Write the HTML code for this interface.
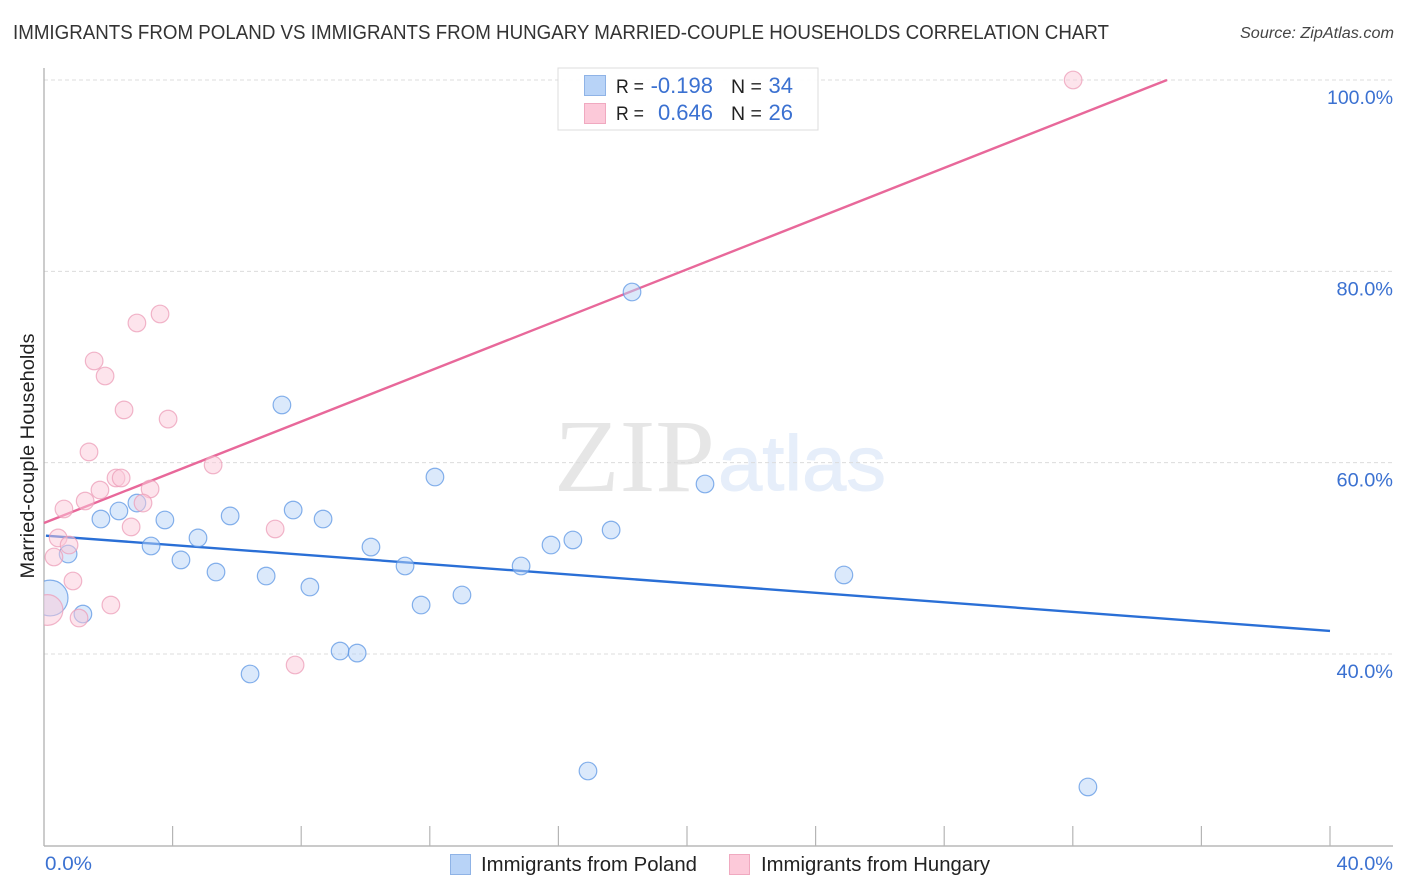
<!DOCTYPE html>
<html lang="en">
<head>
<meta charset="utf-8">
<title>Immigrants from Poland vs Immigrants from Hungary Married-couple Households Correlation Chart</title>
<style>
html,body{margin:0;padding:0;background:#fff;width:1406px;height:892px;overflow:hidden}
svg{display:block;font-family:"Liberation Sans",sans-serif}
</style>
</head>
<body>
<svg id="chart" xmlns="http://www.w3.org/2000/svg" width="1406" height="892" viewBox="0 0 1406 892">
  <defs>
    <clipPath id="plot-clip"><rect x="44" y="60" width="1360" height="786"/></clipPath>
  </defs>
  <text x="13" y="39" font-size="20" fill="#333" textLength="1096" lengthAdjust="spacingAndGlyphs">IMMIGRANTS FROM POLAND VS IMMIGRANTS FROM HUNGARY MARRIED-COUPLE HOUSEHOLDS CORRELATION CHART</text>
  <text x="1240" y="38" font-size="15.5" font-style="italic" fill="#444" textLength="154" lengthAdjust="spacingAndGlyphs">Source: ZipAtlas.com</text>

  <g>
    <text x="554" y="491" style="font-family:'Liberation Serif',serif" font-size="104" fill="#e6e6e6" textLength="161" lengthAdjust="spacingAndGlyphs">ZIP</text>
    <text x="718" y="490" style="font-family:'Liberation Sans',sans-serif" font-size="78" fill="#e6eefa" stroke="#e6eefa" stroke-width="1" textLength="168" lengthAdjust="spacingAndGlyphs">atlas</text>
  </g>

  <g id="grid"></g>
  <g id="axes"></g>
  <g id="lines"></g>
  <g id="points" clip-path="url(#plot-clip)"></g>
  <g id="labels"></g>

  <text transform="translate(34 456) rotate(-90)" font-size="19.5" fill="#222" text-anchor="middle" textLength="245" lengthAdjust="spacingAndGlyphs">Married-couple Households</text>

  <g>
    <rect x="558" y="68" width="260" height="62" fill="#fff" fill-opacity="0.9" stroke="#dcdcdc" stroke-width="1"/>
    <rect x="584.5" y="75.5" width="21" height="20" fill="#b8d3f7" stroke="#8fb3e6"/>
    <rect x="584.5" y="103.5" width="21" height="20" fill="#fcc9d9" stroke="#f0a9c0"/>
    <text x="616" y="93" font-size="19.5" fill="#222" textLength="28" lengthAdjust="spacingAndGlyphs">R =</text>
    <text x="713" y="93" font-size="22" fill="#3b71d1" text-anchor="end">-0.198</text>
    <text x="731" y="93" font-size="19.5" fill="#222">N =</text>
    <text x="793" y="93" font-size="22" fill="#3b71d1" text-anchor="end">34</text>
    <text x="616" y="120" font-size="19.5" fill="#222" textLength="28" lengthAdjust="spacingAndGlyphs">R =</text>
    <text x="713" y="120" font-size="22" fill="#3b71d1" text-anchor="end">0.646</text>
    <text x="731" y="120" font-size="19.5" fill="#222">N =</text>
    <text x="793" y="120" font-size="22" fill="#3b71d1" text-anchor="end">26</text>
  </g>

  <g>
    <rect x="450.5" y="854.5" width="20" height="20" fill="#b8d3f7" stroke="#8fb3e6"/>
    <text x="481" y="871" font-size="20" fill="#222" textLength="216" lengthAdjust="spacingAndGlyphs">Immigrants from Poland</text>
    <rect x="729.5" y="854.5" width="20" height="20" fill="#fcc9d9" stroke="#f0a9c0"/>
    <text x="761" y="871" font-size="20" fill="#222" textLength="229" lengthAdjust="spacingAndGlyphs">Immigrants from Hungary</text>
  </g>
</svg>
<script>
// Chart data (percent values)
const polandX = [0.19,0.75,1.21,1.77,2.33,2.89,3.33,3.76,4.26,4.79,5.35,5.79,6.41,6.91,7.40,7.75,8.27,8.68,9.21,9.74,10.17,11.23,11.73,12.16,13.00,14.84,15.77,16.45,17.64,18.29,20.56,24.88,16.92,32.47];
const polandY = [45.85,50.45,44.18,54.11,54.95,55.78,51.29,54.01,49.83,52.13,48.57,54.43,37.91,48.15,66.03,55.05,47.00,54.11,40.31,40.10,51.18,49.20,45.12,58.50,46.17,49.20,51.39,51.92,52.96,77.84,57.77,48.26,27.77,26.10];
const polandWeight = [4.13,1,1,1,1,1,1,1,1,1,1,1,1,1,1,1,1,1,1,1,1,1,1,1,1,1,1,1,1,1,1,1,1,1];
const hungaryX = [32.01,3.61,2.89,1.56,1.90,2.49,3.86,5.26,1.40,2.24,2.40,3.30,3.08,1.74,1.28,0.62,2.71,0.44,0.78,0.31,0.90,2.08,1.09,0.11,7.19,7.81];
const hungaryY = [100.00,75.54,74.60,70.63,69.06,65.51,64.56,59.76,61.12,58.40,58.40,57.25,55.78,57.14,55.99,55.16,53.28,52.13,51.39,50.14,47.63,45.12,43.76,44.60,53.07,38.85];
const hungaryWeight = [1,1,1,1,1,1,1,1,1,1,1,1,1,1,1,1,1,1,1,1,1,1,1,3.04,1,1];
const polandTrendX = [0.06,40];
const polandTrendY = [52.37,42.41];
const hungaryTrendX = [0,34.93];
const hungaryTrendY = [53.69,100];
const yTicks = [100,80,60,40];
const yTickLabels = ["100.0%","80.0%","60.0%","40.0%"];
const xTicks = [0,4,8,12,16,20,24,28,32,36,40];
const xEndTicks = [0,40];
const xEndLabels = ["0.0%","40.0%"];

const NS = 'http://www.w3.org/2000/svg';
function xScale(v){ return 44 + v * 32.15; }
function yScale(v){ return 80 + (100 - v) * 9.5667; }
function labelWidth(s){ return 9.5 * s.length + 9; }
function make(tag, attrs, parent){
  const el = document.createElementNS(NS, tag);
  for (const k in attrs) el.setAttribute(k, attrs[k]);
  parent.appendChild(el);
  return el;
}
const gridG = document.getElementById('grid');
const axesG = document.getElementById('axes');
const linesG = document.getElementById('lines');
const pointsG = document.getElementById('points');
const labelsG = document.getElementById('labels');

yTicks.forEach(function(t, i){
  const line = make('line', {x1:44, x2:1393, y1:yScale(t), y2:yScale(t), stroke:'#dcdcdc', 'stroke-width':1, 'stroke-dasharray':'4 3'}, gridG);
  
  
  const w = labelWidth(yTickLabels[i]);
  const label = make('text', {x:1393 - w, y:yScale(t) + 24, 'font-size':19.5, fill:'#3b71d1', textLength:w, lengthAdjust:'spacingAndGlyphs'}, labelsG);
  label.textContent = yTickLabels[i];
  
  
});

const yAxis = make('line', {x1:44, x2:44, y1:68, y2:846, stroke:'#aaa', 'stroke-width':1.2}, axesG);


const xAxis = make('line', {x1:44, x2:1393, y1:846, y2:846, stroke:'#aaa', 'stroke-width':1.2}, axesG);



xTicks.forEach(function(t){
  const tick = make('line', {x1:xScale(t), x2:xScale(t), y1:826, y2:846, stroke:'#b5b5b5', 'stroke-width':1.2}, axesG);
  
  
});

xEndTicks.forEach(function(t, i){
  const w = labelWidth(xEndLabels[i]);
  const label = make('text', {x: i === 0 ? xScale(t) + 1 : 1393 - w, y:870, 'font-size':19.5, fill:'#3b71d1', textLength:w, lengthAdjust:'spacingAndGlyphs'}, labelsG);
  label.textContent = xEndLabels[i];
  
  
});

function drawPoints(xs, ys, weights, fill, stroke, name){
  xs.forEach(function(x, i){
    const c = make('circle', {cx:xScale(x), cy:yScale(ys[i]), r:8.8 * Math.sqrt(weights[i]), fill:fill, 'fill-opacity':0.5, stroke:stroke, 'stroke-opacity':0.75, 'stroke-width':1.2}, pointsG);
    
    
  });
}
drawPoints(polandX, polandY, polandWeight, '#b8d3f7', '#5d97e4', 'poland-point');
drawPoints(hungaryX, hungaryY, hungaryWeight, '#fcc9d9', '#ec9db8', 'hungary-point');

const polandLine = make('line', {x1:xScale(polandTrendX[0]), y1:yScale(polandTrendY[0]), x2:xScale(polandTrendX[1]), y2:yScale(polandTrendY[1]), stroke:'#2a6fd6', 'stroke-width':2.4}, linesG);


const hungaryLine = make('line', {x1:xScale(hungaryTrendX[0]), y1:yScale(hungaryTrendY[0]), x2:xScale(hungaryTrendX[1]), y2:yScale(hungaryTrendY[1]), stroke:'#e8689a', 'stroke-width':2.4}, linesG);


</script>
</body>
</html>
